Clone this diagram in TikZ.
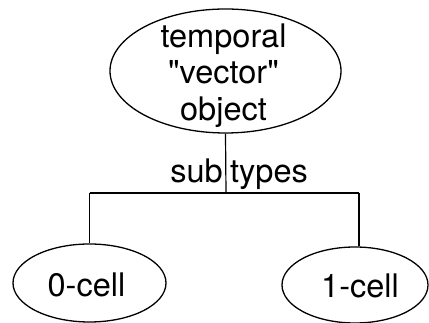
\documentclass[tikz,border=0pt]{standalone}
\usepackage{fontspec}
\setmainfont{TeX Gyre Heros}[Ligatures=TeXOff]
\usetikzlibrary{shapes.geometric}
\begin{document}
\begin{tikzpicture}[x=1pt,y=1pt,
  oval/.style={draw, ellipse, line width=1.3pt, inner sep=0pt},
  lbl/.style={inner sep=0pt, font=\fontsize{32.5}{36.5}\selectfont},
  link/.style={line width=1.2pt}]
\useasboundingbox (0,0) rectangle (429,323);
\node[oval, minimum width=231pt, minimum height=124pt] (top) at (225.5,252) {};
\node[oval, minimum width=153pt, minimum height=78pt] (c0) at (89.5,40) {};
\node[oval, minimum width=146pt, minimum height=76pt] (c1) at (355,38) {};
\node[lbl, align=center] (toptext) at (223.5,247.3) {temporal\\"vector"\\object};
\node[lbl, anchor=base] (c0text) at (86.5,26) {0-cell};
\node[lbl, anchor=base] (c1text) at (360,25) {1-cell};
\coordinate (j) at (226,130);
\coordinate (jl) at (89.5,130);
\coordinate (jr) at (359,130);
\draw[link] (top.south) -- (j);
\draw[link] (jl) -- (jr);
\draw[link] (jl) -- (c0.north);
\draw[link] (jr) -- (jr |- c1.north);
\node[lbl, anchor=base east] (sub) at (223,140) {sub};
\node[lbl, anchor=base west] (types) at (230,140) {types};
\end{tikzpicture}
\end{document}
